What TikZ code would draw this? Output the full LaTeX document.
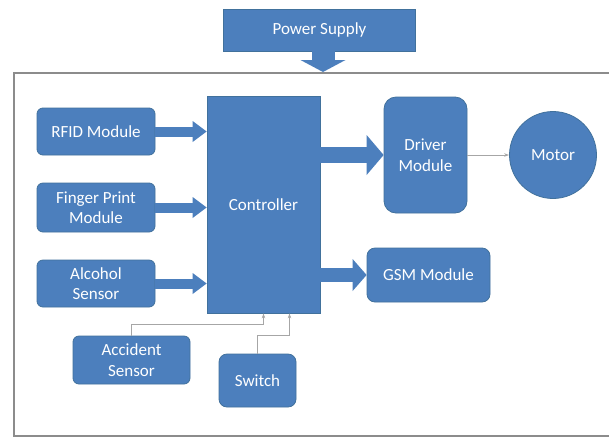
\documentclass[tikz,border=0pt]{standalone}
\usepackage{fontspec}
\setmainfont{Carlito}
\usetikzlibrary{arrows.meta,calc}
\definecolor{blk}{HTML}{4C7FBD}
\definecolor{blkedge}{HTML}{41719C}
\definecolor{wire}{HTML}{A6A6A6}
\definecolor{framec}{HTML}{8C8C8C}
\begin{document}
\begin{tikzpicture}[x=1pt,y=-1pt,
  blockbox/.style={draw=blkedge, line width=0.8pt, fill=blk, text=white, align=center,
    font=\fontsize{17}{20.5}\selectfont, inner sep=0pt},
  rbox/.style={blockbox, rounded corners=6pt},
  fat/.style={draw=blk, line cap=butt},
  wirearrow/.style={draw=wire, line width=0.8pt, -{Stealth[length=5pt,width=3.5pt]}}]
\useasboundingbox (0,0) rectangle (609,437);
\fill[white] (0,0) rectangle (609,437);
% frame
\draw[framec, line width=1.5pt] (615,73) -- (14,73) -- (14,436) -- (615,436);
\coordinate (ftop) at (323,72);
% nodes
\node[blockbox, minimum width=192pt, minimum height=42pt] (ps) at (319.5,30) {Power Supply};
\node[rbox, minimum width=118pt, minimum height=47pt] (rfid) at (96,131.5) {RFID Module};
\node[rbox, minimum width=118pt, minimum height=49pt] (fp) at (96,207.5) {Finger Print\\Module};
\node[rbox, minimum width=118pt, minimum height=47pt] (alc) at (96,283.5) {Alcohol\\Sensor};
\node[blockbox, minimum width=113pt, minimum height=217pt] (ctrl) at (263.5,204.5) {Controller};
\node[blockbox, rounded corners=12pt, minimum width=83pt, minimum height=116pt] (drv) at (425.5,155) {Driver\\Module};
\node[blockbox, circle, minimum size=87pt] (mot) at (553,155) {Motor};
\node[blockbox, rounded corners=8pt, minimum width=123pt, minimum height=54pt] (gsm) at (428.5,275) {GSM Module};
\node[rbox, minimum width=117pt, minimum height=48pt] (acc) at (131.5,360) {Accident\\Sensor};
\node[blockbox, rounded corners=8pt, minimum width=77pt, minimum height=53pt] (sw) at (257.5,380.5) {Switch};
% fat arrows
\draw[fat, line width=23pt, -{Triangle[width=45pt,length=12pt,line width=0pt]}] ([xshift=3.5pt]ps.south) -- (ftop);
\draw[fat, line width=10pt, -{Triangle[width=21pt,length=14pt,line width=0pt]}] (rfid.east) -- (ctrl.west |- rfid.east);
\draw[fat, line width=10pt, -{Triangle[width=21pt,length=14pt,line width=0pt]}] (fp.east) -- (ctrl.west |- fp.east);
\draw[fat, line width=10pt, -{Triangle[width=21pt,length=14pt,line width=0pt]}] (alc.east) -- (ctrl.west |- alc.east);
\draw[fat, line width=16pt, -{Triangle[width=40pt,length=17pt,line width=0pt]}] (ctrl.east |- drv.west) -- (drv.west);
\draw[fat, line width=14pt, -{Triangle[width=32pt,length=14pt,line width=0pt]}] (ctrl.east |- gsm.west) -- (gsm.west);
% thin connectors
\draw[wirearrow] (drv.east) -- (mot.west);
\draw[wirearrow] (acc.north) |- ([yshift=-11pt]ctrl.south) -- (ctrl.south);
\draw[wirearrow] (sw.north) |- ([xshift=26pt,yshift=-22pt]ctrl.south) -- ([xshift=26pt]ctrl.south);
\end{tikzpicture}
\end{document}
